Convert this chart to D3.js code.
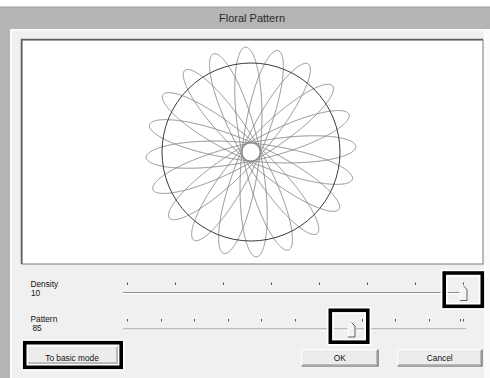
<!DOCTYPE html>
<html><head><meta charset="utf-8">
<script src="https://cdn.jsdelivr.net/npm/d3@7"></script>
<style>
html,body{margin:0;padding:0;background:#fff;}
svg{display:block;font-family:"Liberation Sans",Arial,sans-serif;}
</style></head>
<body>
<script>
// ---- data ----
const dialogTitle = "Floral Pattern";
const sliderNames = ["Density", "Pattern"];
const sliderValues = [10, 85];
const sliderMin = [3, 55];
const sliderMax = [10, 100];
const sliderTickCounts = [8, 11];
const buttonLabels = ["To basic mode", "OK", "Cancel"];
// spirograph (hypotrochoid) parameters: fixed ring, rolling wheel, pen reach
const ringTeeth = [20];
const wheelTeeth = [9];
const outerRadius = [105];
const innerRadius = [9];
const guideCircleRadius = [89];

const W = 490, H = 378;
const svg = d3.select("body").append("svg").attr("width", W).attr("height", H);

// window frame
svg.append("rect").attr("x",0).attr("y",0).attr("width",W).attr("height",H).attr("fill","#ffffff");
svg.append("rect").attr("x",0).attr("y",7).attr("width",W).attr("height",H-7).attr("fill","#b5b5b5");
svg.append("line").attr("x1",0).attr("x2",W).attr("y1",7).attr("y2",7).attr("stroke","#9c9c9c").attr("stroke-width",1);
svg.append("rect").attr("x",10).attr("y",29).attr("width",W-10).attr("height",H-29).attr("fill","#fbfbfb");
svg.append("rect").attr("x",12).attr("y",31).attr("width",472).attr("height",H-31).attr("fill","#f0f0f0");
svg.append("text").attr("x",252).attr("y",22).attr("text-anchor","middle")
  .attr("font-size",11).attr("fill","#2b2b2b").text(dialogTitle);

// canvas
const cv = {x0:22, y0:40, x1:483, y1:264};
svg.append("rect").attr("x",cv.x0).attr("y",cv.y0).attr("width",cv.x1-cv.x0).attr("height",cv.y1-cv.y0)
  .attr("fill","#ffffff").attr("stroke","#7a7a7a").attr("stroke-width",1);
svg.append("path").attr("d",`M${cv.x0-0.5},${cv.y1}V${cv.y0-0.5}H${cv.x1}`).attr("fill","none")
  .attr("stroke","#5e5e5e").attr("stroke-width",1.5);

// spirograph
const cx = 251, cy = 152;
const R = ringTeeth[0], r = wheelTeeth[0];
const k = (R - r) / r;
const d = (outerRadius[0] + innerRadius[0]) / 2;   // pen distance (outside the wheel -> loops)
const a = (outerRadius[0] - innerRadius[0]) / 2;   // wheel-centre orbit radius
const rot = 3 * Math.PI / 180;
const sx = d3.scaleLinear().domain([-1,1]).range([cx-1, cx+1]);
const sy = d3.scaleLinear().domain([-1,1]).range([cy+1, cy-1]);
function gcd(p,q){return q? gcd(q,p%q):p;}
const turns = r / gcd(R, r);
const N = 8000;
const ts = d3.range(N+1).map(i => i / N * 2 * Math.PI * turns);
const pts = ts.map(t => {
  const x = a*Math.cos(t) + d*Math.cos(k*t);
  const y = a*Math.sin(t) - d*Math.sin(k*t);
  return [x*Math.cos(rot) - y*Math.sin(rot), x*Math.sin(rot) + y*Math.cos(rot)];
});
const line = d3.line().x(p => sx(p[0])).y(p => sy(p[1]));
svg.append("path").attr("d", line(pts)).attr("fill","none").attr("stroke","#808080").attr("stroke-width",0.9);
svg.append("circle").attr("cx",cx).attr("cy",cy).attr("r",guideCircleRadius[0])
  .attr("fill","none").attr("stroke","#3c3c3c").attr("stroke-width",1);

// sliders
const trackY = [292.5, 329];
const labelY = [287, 322];
const valueY = [295.5, 330.5];
const valueX = [31, 32.5];
sliderNames.forEach((name, i) => {
  const scale = d3.scaleLinear().domain([sliderMin[i], sliderMax[i]]).range([127, 462.5]);
  const ty = trackY[i];
  svg.append("text").attr("x",30.5).attr("y",labelY[i]).attr("font-size",8.3).attr("fill","#111").text(name);
  svg.append("text").attr("x",valueX[i]).attr("y",valueY[i]).attr("font-size",8.3).attr("fill","#111").text(sliderValues[i]);
  svg.append("line").attr("x1",123).attr("x2",466).attr("y1",ty).attr("y2",ty).attr("stroke","#8a8a8a").attr("stroke-width",1);
  svg.append("line").attr("x1",123).attr("x2",466).attr("y1",ty+1).attr("y2",ty+1).attr("stroke","#ffffff").attr("stroke-width",1);
  const tickVals = d3.range(sliderTickCounts[i]).map(j => sliderMin[i] + j*(sliderMax[i]-sliderMin[i])/(sliderTickCounts[i]-1));
  svg.selectAll(null).data(tickVals).enter().append("line")
    .attr("x1",v=>Math.round(scale(v))+0.5).attr("x2",v=>Math.round(scale(v))+0.5)
    .attr("y1",ty-10).attr("y2",ty-7.5).attr("stroke","#555").attr("stroke-width",1);
  if (i === 1) {
    const xl = Math.round(scale(sliderMax[i])) - 2.5;
    svg.append("line").attr("x1",xl).attr("x2",xl).attr("y1",ty-10).attr("y2",ty-7.5).attr("stroke","#555").attr("stroke-width",1);
  }
  const tx = Math.round(scale(sliderValues[i])) + 0.5;
  const thumb = `M${tx-3.5},${ty+8}V${ty-1}L${tx},${ty-6.5}L${tx+3.5},${ty-3}V${ty+8}Z`;
  svg.append("path").attr("d",thumb).attr("fill","#f3f3f3").attr("stroke","#ffffff").attr("stroke-width",1);
  svg.append("path").attr("d",`M${tx},${ty-6.5}L${tx+3.5},${ty-3}V${ty+8}H${tx-3.5}`).attr("fill","none").attr("stroke","#5a5a5a").attr("stroke-width",1);
});

// buttons
const btns = [
  {x0:26, y0:346, x1:118, y1:364, ty:360.5},
  {x0:301.5, y0:349.5, x1:378, y1:366, ty:360.5},
  {x0:397.5, y0:349.5, x1:482, y1:366, ty:360.5}
];
buttonLabels.forEach((lab, i) => {
  const b = btns[i];
  svg.append("rect").attr("x",b.x0).attr("y",b.y0).attr("width",b.x1-b.x0).attr("height",b.y1-b.y0)
    .attr("fill","#ececec").attr("stroke","#ffffff").attr("stroke-width",1);
  svg.append("path").attr("d",`M${b.x1},${b.y0}V${b.y1}H${b.x0}`).attr("fill","none").attr("stroke","#555").attr("stroke-width",1.2);
  svg.append("path").attr("d",`M${b.x1-1.2},${b.y0+1}V${b.y1-1.2}H${b.x0+1}`).attr("fill","none").attr("stroke","#a8a8a8").attr("stroke-width",1);
  svg.append("text").attr("x",(b.x0+b.x1)/2).attr("y",b.ty).attr("text-anchor","middle")
    .attr("font-size",8.3).attr("fill","#111").text(lab);
});

// highlight boxes
const boxes = [
  {x0:24.7, y0:342.7, x1:121.2, y1:367.3},
  {x0:444.2, y0:273, x1:482.3, y1:306.3},
  {x0:330.3, y0:310.3, x1:367.8, y1:342.2}
];
boxes.forEach(b => {
  svg.append("rect").attr("x",b.x0).attr("y",b.y0).attr("width",b.x1-b.x0).attr("height",b.y1-b.y0)
    .attr("fill","none").attr("stroke","#ffffff").attr("stroke-width",7);
});
boxes.forEach(b => {
  svg.append("rect").attr("x",b.x0).attr("y",b.y0).attr("width",b.x1-b.x0).attr("height",b.y1-b.y0)
    .attr("fill","none").attr("stroke","#000").attr("stroke-width",3.6);
});
</script>
</body></html>
